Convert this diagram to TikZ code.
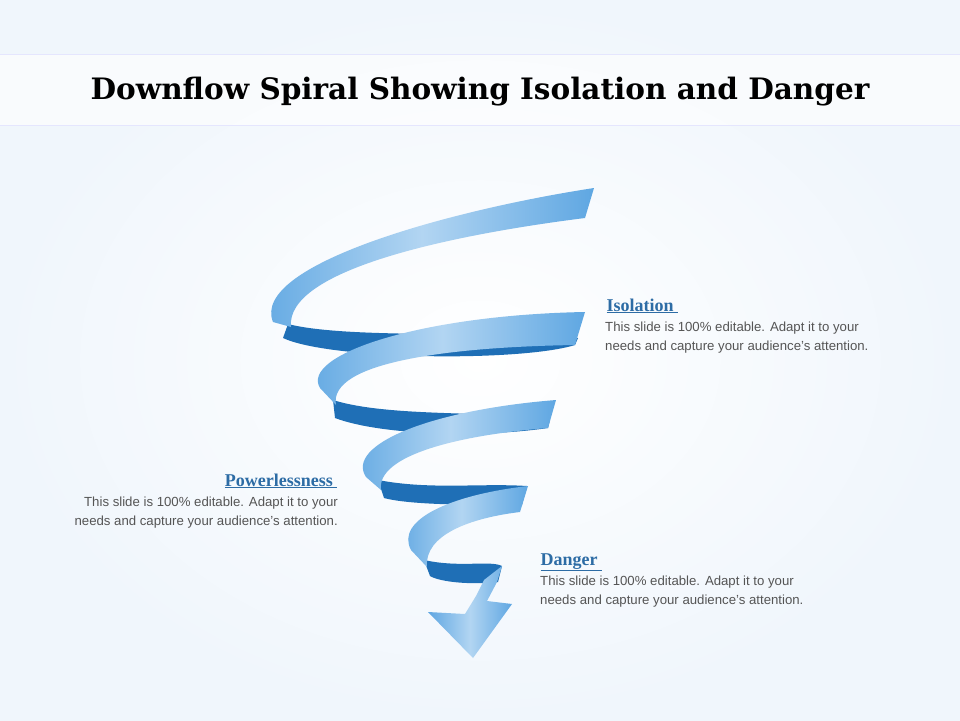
\documentclass[tikz,border=0pt]{standalone}
\usepackage{fontspec}
\setmainfont{Liberation Serif}
\setsansfont{Liberation Sans}
\newfontfamily\titlefont{DejaVu Serif}
\begin{document}
\begin{tikzpicture}[x=1pt,y=-1pt,
  lite/.style={left color=rib,right color=rib,middle color=ribmid},
  dark/.style={fill=ribdark},
  head/.style={anchor=base west,font=\fontsize{18}{20}\selectfont\bfseries,text=headc},
  body/.style={align=left,anchor=north west,font=\sffamily\fontsize{13.2}{19}\selectfont,text=bodyc,inner sep=0pt}]
\definecolor{rib}{HTML}{5FA7E2}
\definecolor{ribmid}{HTML}{B2D5F2}
\definecolor{ribdark}{HTML}{1F6FB6}
\definecolor{headc}{HTML}{2D6CA5}
\definecolor{bodyc}{HTML}{555555}
\definecolor{bgc}{HTML}{F0F6FC}
\useasboundingbox (0,0) rectangle (960,720);
\shade[inner color=white,outer color=bgc] (0,0) rectangle (960,720);
\fill[white,opacity=0.6] (0,54) rectangle (960,125);
\draw[color=bgc!70!blue!30] (0,54) -- (960,54) (0,125) -- (960,125);
\node (title) at (480,92) {\titlefont\fontsize{29.5}{36}\selectfont\bfseries Downflow Spiral Showing Isolation and Danger};
% dark back bands
\path[dark] (288,324) .. controls (350,340) and (520,330) .. (578,338) -- (575,345) .. controls (520,362) and (330,360) .. (283,338) -- cycle;
\path[dark] (333,400) .. controls (390,418) and (500,410) .. (550,420) -- (548,428) .. controls (480,438) and (380,435) .. (335,418) -- cycle;
\path[dark] (378,480) .. controls (430,490) and (480,483) .. (527,486) -- (522,505) .. controls (470,505) and (410,505) .. (384,498) -- cycle;
\path[dark] (424,560) .. controls (460,568) and (490,560) .. (502,566) -- (498,582) .. controls (470,585) and (440,582) .. (430,576) -- cycle;
% light front bands
\path[lite] (594,188) .. controls (450,210) and (250,265) .. (273,322) -- (291,327) .. controls (285,270) and (450,235) .. (585,218) -- cycle;
\path[lite] (585,312) .. controls (420,315) and (300,355) .. (320,388) -- (336,405) .. controls (328,362) and (450,347) .. (575,345) -- cycle;
\path[lite] (556,400) .. controls (430,410) and (345,445) .. (366,477) -- (381,490) .. controls (376,455) and (460,435) .. (548,428) -- cycle;
\path[lite] (528,486) .. controls (450,495) and (395,520) .. (411,550) -- (427,567) .. controls (424,535) and (470,518) .. (520,512) -- cycle;
\path[lite] (502,566) -- (497,582) -- (487,601) -- (512,604) -- (473,658) -- (428,612) -- (465,614) -- (476,596) -- (484,580) -- cycle;
% texts
\node[head] (iso) at (603,311) {\underline{Isolation\ }};
\node[body] (isob) at (605,322) {This slide is 100\% editable. Adapt it to your\\needs and capture your audience's attention.};
\node[head,anchor=base east] (pow) at (341,486) {\underline{Powerlessness\ }};
\node[body,align=right,anchor=north east] (powb) at (338,497) {This slide is 100\% editable. Adapt it to your\\needs and capture your audience's attention.};
\node[head] (dan) at (537,565) {\underline{Danger\ }};
\node[body] (danb) at (540,576) {This slide is 100\% editable. Adapt it to your\\needs and capture your audience's attention.};
\end{tikzpicture}
\end{document}
